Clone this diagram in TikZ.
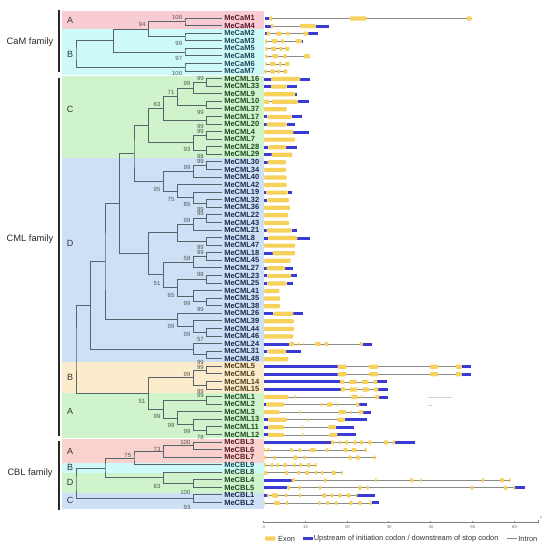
\documentclass[tikz,border=0pt]{standalone}
\usepackage{fontspec}
\setmainfont{Liberation Sans}
\usetikzlibrary{calc}
\definecolor{bandPink}{HTML}{F9CCD3}
\definecolor{bandCyan}{HTML}{CDFAF9}
\definecolor{bandGreen}{HTML}{CFF3CB}
\definecolor{bandBlue}{HTML}{CEE0F6}
\definecolor{bandBeige}{HTML}{FCEBCB}
\definecolor{bandSalmon}{HTML}{F9D2CD}
\definecolor{treec}{HTML}{56656C}
\definecolor{bsc}{HTML}{4E5752}
\definecolor{labRed}{HTML}{5A1A2C}
\definecolor{labTeal}{HTML}{1A4A5A}
\definecolor{labGreen}{HTML}{1E4A22}
\definecolor{labNavy}{HTML}{1C2B50}
\definecolor{labBrown}{HTML}{4E3A18}
\definecolor{exonc}{HTML}{F6D25C}
\definecolor{utrc}{HTML}{3A3AD6}
\definecolor{intronc}{HTML}{8A8A8A}
\definecolor{famc}{HTML}{2A2A2A}
\newcommand\gene[3]{\draw[intron] (#2,{ly(#1)+0.5}) -- (#3,{ly(#1)+0.5});}
\newcommand\utr[2]{\foreach \a/\b in {#2}{\fill[utrc] (\a,{ly(#1)+0.5-1.5}) rectangle (\b,{ly(#1)+0.5+1.5});}}
\newcommand\ex[2]{\foreach \a/\b in {#2}{\fill[exonc,rounded corners=0.9bp] (\a,{ly(#1)+0.5-2.1}) rectangle (\b,{ly(#1)+0.5+2.1});}}
\newcommand\bsv[3]{\node[bs] (bs-#1) at ($(#1)+(-2.7,#2)$) {#3};}
\begin{document}
\begin{tikzpicture}[x=1bp,y=-1bp,
 declare function={ly(\i)=18+7.57*\i;},
 br/.style={draw=treec,line width=0.85bp},
 leaf/.style={anchor=west,inner xsep=2.4bp,inner ysep=0bp,text height=5.4bp,text depth=0bp,font=\fontsize{7.5bp}{7.5bp}\selectfont\bfseries},
 bs/.style={anchor=east,inner sep=0pt,text height=4.3bp,text depth=0bp,text=bsc,font=\fontsize{6bp}{6bp}\selectfont},
 grp/.style={inner sep=0pt,text=black!80,font=\fontsize{9bp}{9bp}\selectfont},
 fam/.style={inner sep=0pt,text=famc,font=\fontsize{9.3bp}{9.3bp}\selectfont},
 famline/.style={draw=famc,line width=1.3bp},
 intron/.style={draw=intronc,line width=0.7bp},
 lgd/.style={anchor=west,inner sep=0pt,text=black!80,font=\fontsize{7.4bp}{7.4bp}\selectfont},
 tick/.style={inner sep=0pt,text=black!55,font=\fontsize{4.3bp}{4.3bp}\selectfont}
]
\useasboundingbox (0,0) rectangle (547,550);
\fill[white] (0,0) rectangle (547,550);
% bands
\fill[bandPink] (62.3,10.7) rectangle (263.5,28.9);
\fill[bandCyan] (62.3,28.9) rectangle (263.5,74.7);
\fill[bandGreen] (62.3,76.5) rectangle (263.5,158.3);
\fill[bandBlue] (62.3,158.3) rectangle (263.5,362.3);
\fill[bandBeige] (62.3,362.3) rectangle (263.5,393.3);
\fill[bandGreen] (62.3,393.3) rectangle (263.5,438.3);
\fill[bandSalmon] (62.3,439.3) rectangle (263.5,462.7);
\fill[bandCyan] (62.3,462.7) rectangle (263.5,472.7);
\fill[bandGreen] (62.3,472.7) rectangle (263.5,492.7);
\fill[bandBlue] (62.3,492.7) rectangle (263.5,509.3);
% families
\draw[famline] (59,10) -- (59,72);
\draw[famline] (59,77.7) -- (59,436);
\draw[famline] (59,441) -- (59,510);
\node[fam] (famCaM) at (30,42) {CaM family};
\node[fam] (famCML) at (30,239) {CML family};
\node[fam] (famCBL) at (30,473) {CBL family};
% group letters
\node[grp] (gCaMA) at (70,20) {A};
\node[grp] (gCaMB) at (70,54) {B};
\node[grp] (gCMLC) at (70,109) {C};
\node[grp] (gCMLD) at (70,243) {D};
\node[grp] (gCMLB) at (70,377) {B};
\node[grp] (gCMLA) at (70,411) {A};
\node[grp] (gCBLA) at (70,451) {A};
\node[grp] (gCBLB) at (70,467) {B};
\node[grp] (gCBLD) at (70,482) {D};
\node[grp] (gCBLC) at (70,500) {C};
% leaves
\foreach \n/\i/\c in {CaM1/0/labRed,CaM4/1/labRed,CaM2/2/labTeal,CaM3/3/labTeal,CaM5/4/labTeal,CaM8/5/labTeal,CaM6/6/labTeal,CaM7/7/labTeal,
 CML16/8/labGreen,CML33/9/labGreen,CML9/10/labGreen,CML10/11/labGreen,CML37/12/labGreen,CML17/13/labGreen,CML20/14/labGreen,CML4/15/labGreen,CML7/16/labGreen,CML28/17/labGreen,CML29/18/labGreen,
 CML30/19/labNavy,CML34/20/labNavy,CML40/21/labNavy,CML42/22/labNavy,CML19/23/labNavy,CML32/24/labNavy,CML36/25/labNavy,CML22/26/labNavy,CML43/27/labNavy,CML21/28/labNavy,CML8/29/labNavy,CML47/30/labNavy,CML18/31/labNavy,CML45/32/labNavy,CML27/33/labNavy,CML23/34/labNavy,CML25/35/labNavy,CML41/36/labNavy,CML35/37/labNavy,CML38/38/labNavy,CML26/39/labNavy,CML39/40/labNavy,CML44/41/labNavy,CML46/42/labNavy,CML24/43/labNavy,CML31/44/labNavy,CML48/45/labNavy,
 CML5/46/labBrown,CML6/47/labBrown,CML14/48/labBrown,CML15/49/labBrown,
 CML1/50/labGreen,CML2/51/labGreen,CML3/52/labGreen,CML13/53/labGreen,CML11/54/labGreen,CML12/55/labGreen,
 CBL3/56/labRed,CBL6/57/labRed,CBL7/58/labRed,CBL9/59/labTeal,CBL8/60/labGreen,CBL4/61/labGreen,CBL5/62/labGreen,CBL1/63/labNavy,CBL2/64/labNavy}
 {\node[leaf,text=\c] (\n) at (221.7,{ly(\i)}) {Me\n};}
% internal nodes
\foreach \n/\x/\i in {c14/185/0.5,c23/185/2.5,c94/148.3/1.5,c58/185/4.5,cX/113.3/3,c67/185/6.5,cR/76/4.75,
 m16_33/206.7/8.5,m99a/193.3/9.25,m10_37/206.7/11.5,m71/177.3/10.375,m17_20/206.7/13.5,m63/163.3/11.9375,m4_7/206.7/15.5,m28_29/206.7/17.5,m93/193.3/16.5,mC/148.3/14.21875,
 m30_34/206.7/19.5,m99b/193.3/20.25,m32_36/206.7/24.5,m85/193.3/23.75,m75/177.3/22.875,m95/163.3/21.5625,m134/134/17.890625,
 m22_43/206.7/26.5,m99c/193.3/27.25,m8_47/206.7/29.5,m177/177.3/28.375,m18_45/206.7/31.5,m58/193.3/32.25,m23_25/206.7/34.5,m35_38/206.7/37.5,m99d/193.3/36.75,m65/177.3/35.625,m51/163.3/33.9375,mD2/148.3/31.15625,m119/119.3/24.5234,
 m44_46/206.7/41.5,m99e/193.3/40.75,m99f/177.3/39.875,m105/105/32.1992,m31_48/206.7/44.5,m24/193.3/43.75,m90/90.7/37.9746,
 m5_6/206.7/46.5,m14_15/206.7/48.5,m99B/193.3/47.5,m1_2/206.7/50.5,m11_12/206.7/54.5,m99g/193.3/53.75,m99h/177.3/52.875,m99i/163.3/51.6875,m51AB/148.3/49.5938,mR/76/43.7842,
 b3_6/193.3/56.5,b73/163.3/57.25,b75/134/58.125,b4_5/193.3/61.5,b83/163.3/60.75,b105/105/59.4375,b1_2/193.3/63.5,bR/76/61.4688}
 {\coordinate (\n) at (\x,{ly(\i)});}
% branches
\foreach \p/\a/\b in {c14/CaM1/CaM4,c23/CaM2/CaM3,c94/c14/c23,c58/CaM5/CaM8,cX/c94/c58,c67/CaM6/CaM7,cR/cX/c67,
 m16_33/CML16/CML33,m99a/m16_33/CML9,m10_37/CML10/CML37,m71/m99a/m10_37,m17_20/CML17/CML20,m63/m71/m17_20,m4_7/CML4/CML7,m28_29/CML28/CML29,m93/m4_7/m28_29,mC/m63/m93,
 m30_34/CML30/CML34,m99b/m30_34/CML40,m32_36/CML32/CML36,m85/CML19/m32_36,m75/CML42/m85,m95/m99b/m75,m134/mC/m95,
 m22_43/CML22/CML43,m99c/m22_43/CML21,m8_47/CML8/CML47,m177/m99c/m8_47,m18_45/CML18/CML45,m58/m18_45/CML27,m23_25/CML23/CML25,m35_38/CML35/CML38,m99d/CML41/m35_38,m65/m23_25/m99d,m51/m58/m65,mD2/m177/m51,m119/m134/mD2,
 m44_46/CML44/CML46,m99e/CML39/m44_46,m99f/CML26/m99e,m105/m119/m99f,m31_48/CML31/CML48,m24/CML24/m31_48,m90/m105/m24,
 m5_6/CML5/CML6,m14_15/CML14/CML15,m99B/m5_6/m14_15,m1_2/CML1/CML2,m11_12/CML11/CML12,m99g/CML13/m11_12,m99h/CML3/m99g,m99i/m1_2/m99h,m51AB/m99B/m99i,mR/m90/m51AB,
 b3_6/CBL3/CBL6,b73/b3_6/CBL7,b75/b73/CBL9,b4_5/CBL4/CBL5,b83/CBL8/b4_5,b105/b75/b83,b1_2/CBL1/CBL2,bR/b105/b1_2}
 {\draw[br] (\a) -| (\p) |- (\b);}
% bootstrap values
\bsv{c14}{-4.8}{100}
\bsv{c94}{-5.4}{94}
\bsv{c23}{6.8}{99}
\bsv{c58}{6.6}{97}
\bsv{c67}{6.5}{100}
\bsv{m16_33}{-4.3}{99}
\bsv{m99a}{-4.3}{99}
\bsv{m71}{-4.2}{71}
\bsv{m10_37}{7}{99}
\bsv{m63}{-3.7}{63}
\bsv{m17_20}{6}{99}
\bsv{m4_7}{-4}{99}
\bsv{m93}{6.8}{93}
\bsv{m28_29}{6.1}{98}
\bsv{m30_34}{-4.0}{99}
\bsv{m99b}{-4}{99}
\bsv{m95}{8}{95}
\bsv{m75}{7.8}{75}
\bsv{m85}{6.5}{85}
\bsv{m32_36}{5.4}{99}
\bsv{m22_43}{-4.9}{99}
\bsv{m99c}{-4.3}{99}
\bsv{m8_47}{6.0}{99}
\bsv{m18_45}{-4.4}{99}
\bsv{m58}{-3.8}{58}
\bsv{m23_25}{-5.2}{98}
\bsv{m51}{8.4}{51}
\bsv{m65}{7.3}{65}
\bsv{m99d}{7.1}{99}
\bsv{m35_38}{7}{99}
\bsv{m99f}{6.5}{99}
\bsv{m99e}{7.8}{99}
\bsv{m44_46}{6.8}{57}
\bsv{m31_48}{7.2}{99}
\bsv{m5_6}{-2.9}{99}
\bsv{m99B}{-3.3}{99}
\bsv{m14_15}{6}{99}
\bsv{m1_2}{-4.6}{99}
\bsv{m51AB}{7.6}{51}
\bsv{m99i}{7}{99}
\bsv{m99h}{6.7}{99}
\bsv{m99g}{6.8}{99}
\bsv{m11_12}{7}{78}
\bsv{b3_6}{-3}{100}
\bsv{b73}{-2.4}{73}
\bsv{b75}{-2.3}{75}
\bsv{b83}{8.8}{83}
\bsv{b4_5}{8.7}{100}
\bsv{b1_2}{9}{93}
% gene structures
\gene{0}{265}{471.7}\utr{0}{265/269.3}\ex{0}{269.3/272.7,350/366.7,466.7/471.7}
\gene{1}{265}{329}\utr{1}{265/270.7,315.7/329}\ex{1}{270.7/273.3,300/315.7}
\gene{2}{265}{317.7}\utr{2}{265/266.7,308.3/317.7}\ex{2}{266.7/270,275.7/281.7,286/289.3,303.3/308.3}
\gene{3}{265}{302.7}\utr{3}{301.7/302.7}\ex{3}{265/267.3,271.7/277.3,281/284,296/301.7}
\gene{4}{265}{289.3}\ex{4}{265/267.3,271/276,279.3/282.7,285/289.3}
\gene{5}{265}{310}\ex{5}{265/267.3,272.3/278.3,283.3/286.7,304/310}
\gene{6}{265}{289.3}\ex{6}{265/266.7,270/275.7,279/281.7,285/289.3}
\gene{7}{264.3}{287.3}\ex{7}{264.3/266.7,270/275,277.3/280,283.3/287.3}
\utr{8}{264/271,300/310}\ex{8}{271/300}
\utr{9}{264/271,286.7/297.3}\ex{9}{271/286.7}
\utr{10}{295/296.7}\ex{10}{264/295}
\gene{11}{264}{309.3}\utr{11}{297.7/309.3}\ex{11}{264/269.3,271.7/297.7}
\ex{12}{264/286.7}
\utr{13}{264/267.3,291.7/301.7}\ex{13}{267.3/291.7}
\utr{14}{264/266.7,286.7/295}\ex{14}{266.7/286.7}
\utr{15}{293.3/309.3}\ex{15}{264/293.3}
\ex{16}{264/295}
\utr{17}{264/268.3,286/296.7}\ex{17}{268.3/286}
\utr{18}{264/271.7}\ex{18}{271.7/292.3}
\utr{19}{264/267.7}\ex{19}{267.7/286}
\ex{20}{264/286}
\ex{21}{264/286.7}
\ex{22}{264/286.7}
\utr{23}{264/266,287.7/292.3}\ex{23}{266/287.7}
\utr{24}{264/267.3}\ex{24}{267.3/289}
\ex{25}{264/290}
\ex{26}{264/288}
\ex{27}{264/289}
\utr{28}{264/266.7,291.7/296.7}\ex{28}{266.7/291.7}
\utr{29}{264/268,297.3/310}\ex{29}{268/297.3}
\ex{30}{264/295}
\utr{31}{264/272.7}\ex{31}{272.7/295}
\ex{32}{264/290.7}
\utr{33}{264/266.7,285/293.3}\ex{33}{266.7/285}
\utr{34}{264/267.3,291/296.7}\ex{34}{267.3/291}
\utr{35}{264/267.3,286.7/292.7}\ex{35}{267.3/286.7}
\ex{36}{264/279.3}
\ex{37}{264/280}
\ex{38}{264/280}
\utr{39}{264/273.3,293.3/303.3}\ex{39}{273.3/293.3}
\ex{40}{264/294}
\ex{41}{264/294}
\ex{42}{264/293.3}
\gene{43}{264}{371.7}\utr{43}{264/289.3,362.7/371.7}\ex{43}{289.3/294.3,298.3/299.5,303.3/304.3,315/320.7,324.3/328.3,360/362.7}
\utr{44}{264/267.3,286/301}\ex{44}{267.3/286}
\ex{45}{264/288.3}
\gene{46}{264}{470.7}\utr{46}{264/337.7,461.7/470.7}\ex{46}{337.7/346.7,369/378.3,430/438.3,455.7/461.7}
\gene{47}{264}{470.7}\utr{47}{264/337.7,461.7/470.7}\ex{47}{337.7/346.7,369/378.3,430/438.3,455.7/461.7}
\gene{48}{264}{386.7}\utr{48}{264/340,377.3/386.7}\ex{48}{340/344.3,349/356.7,361.7/368.3,373.3/377.3}
\gene{49}{264}{387.7}\utr{49}{264/340.7,378.3/387.7}\ex{49}{340.7/345,349.3/357.3,362.3/369.3,374/378.3}
\gene{50}{264}{388.3}\utr{50}{379/388.3}\ex{50}{264/288.3,294/295.3,351/357.7,361/362,375/379}
\gene{51}{264}{367.3}\utr{51}{264/266,359.3/367.3}\ex{51}{266/284.3,321/322.3,326.7/332.7,336.7/337.7,356/359.3}
\gene{52}{264}{371}\utr{52}{363.3/371}\ex{52}{264/279.3,299.3/300.7,338.3/346,350.7/351.7,359/363.3}
\gene{53}{264}{366.7}\utr{53}{264/268,345/366.7}\ex{53}{268/286.7,307.3/308.7,337.3/345}
\gene{54}{264}{354.3}\utr{54}{264/268,336/354.3}\ex{54}{268/284,301.7/303,328.3/336}
\gene{55}{264}{356}\utr{55}{264/268,337.3/356}\ex{55}{268/284,302.3/303.7,329.3/337.3}
\gene{56}{264}{415}\utr{56}{264/331,395/415}\ex{56}{331/334,339.3/341.3,345/348.3,353.3/356.7,360/363.3,368.3/371.7,384/388.3,392.3/395}
\gene{57}{264}{366.7}\ex{57}{264/265.5,267.3/269.3,290/292.7,298.3/301,310/315.7,326/328.7,343.3/347.3,351.7/356.7,364.3/366.7}
\gene{58}{264}{375.7}\ex{58}{264/266,273.3/276,293.3/297.3,303.3/305.7,348.3/351.7,356/360,373.3/375.7}
\gene{59}{264}{316.7}\ex{59}{264/266,270.7/273.3,276.7/279,283.3/286.7,293.3/295.7,299.3/302,307.3/310.7,314.3/316.7}
\gene{60}{264}{342.7}\ex{60}{264/267.3,285/288.3,297.3/300,305/309,315/317.3,321/323.3,331.7/335.7,341/342.7}
\gene{61}{264}{510.7}\utr{61}{264/291.7}\ex{61}{291.7/295,324/326.7,375/376.7,410/413.3,420/421.7,481.7/484,500/504,509/510.7}
\gene{62}{264}{525}\utr{62}{264/287.3,515/525}\ex{62}{287.3/290,298.3/300.7,319/321,358.3/361.7,366.7/368.7,470.7/473.3,504/507.3,513.3/515}
\gene{63}{264}{375}\utr{63}{264/267.3,357.3/375}\ex{63}{267.3/269.3,271.7/278.3,285/287.3,299/301,322.3/326.7,330.7/333.3,338.3/341.7,346.7/350.7,356/357.3}
\gene{64}{264}{379}\utr{64}{371.7/379}\ex{64}{264/265,274/280,286/288.3,318.3/320.7,326/329.3,335/337.3,349.3/352.7,358.3/361.7,369.3/371.7}
% faint marks
\draw[black!18,line width=0.7bp] (428,397) -- (452,397);
\draw[black!18,line width=0.6bp] (428,405) -- (431.5,405);
% axis
\draw[black!50,line width=0.6bp] (263.3,522.3) -- (538.3,522.3) -- (538.3,519.5);
\foreach \k in {0,...,6}{
 \draw[black!50,line width=0.5bp] ({263.3+41.8*\k},522.3) -- ++(0,-1.6);
 \node[tick] (tk\k) at ({263.8+41.8*\k},526.6) {\pgfmathparse{int(10*\k)}\pgfmathresult};
}
\node[tick] (tk7) at (540.8,518.3) {7};
% legend
\fill[exonc,rounded corners=1bp] (265,536.4) rectangle (275.5,540.6);
\node[lgd] (lgExon) at (278,538.6) {Exon};
\fill[utrc] (302.7,537.1) rectangle (313.3,540.1);
\node[lgd] (lgUtr) at (313.6,538.6) {Upstream of initiation codon / downstream of stop codon};
\draw[intron] (506.7,538.6) -- (516.7,538.6);
\node[lgd] (lgIntron) at (518.2,538.6) {Intron};
\end{tikzpicture}
\end{document}
